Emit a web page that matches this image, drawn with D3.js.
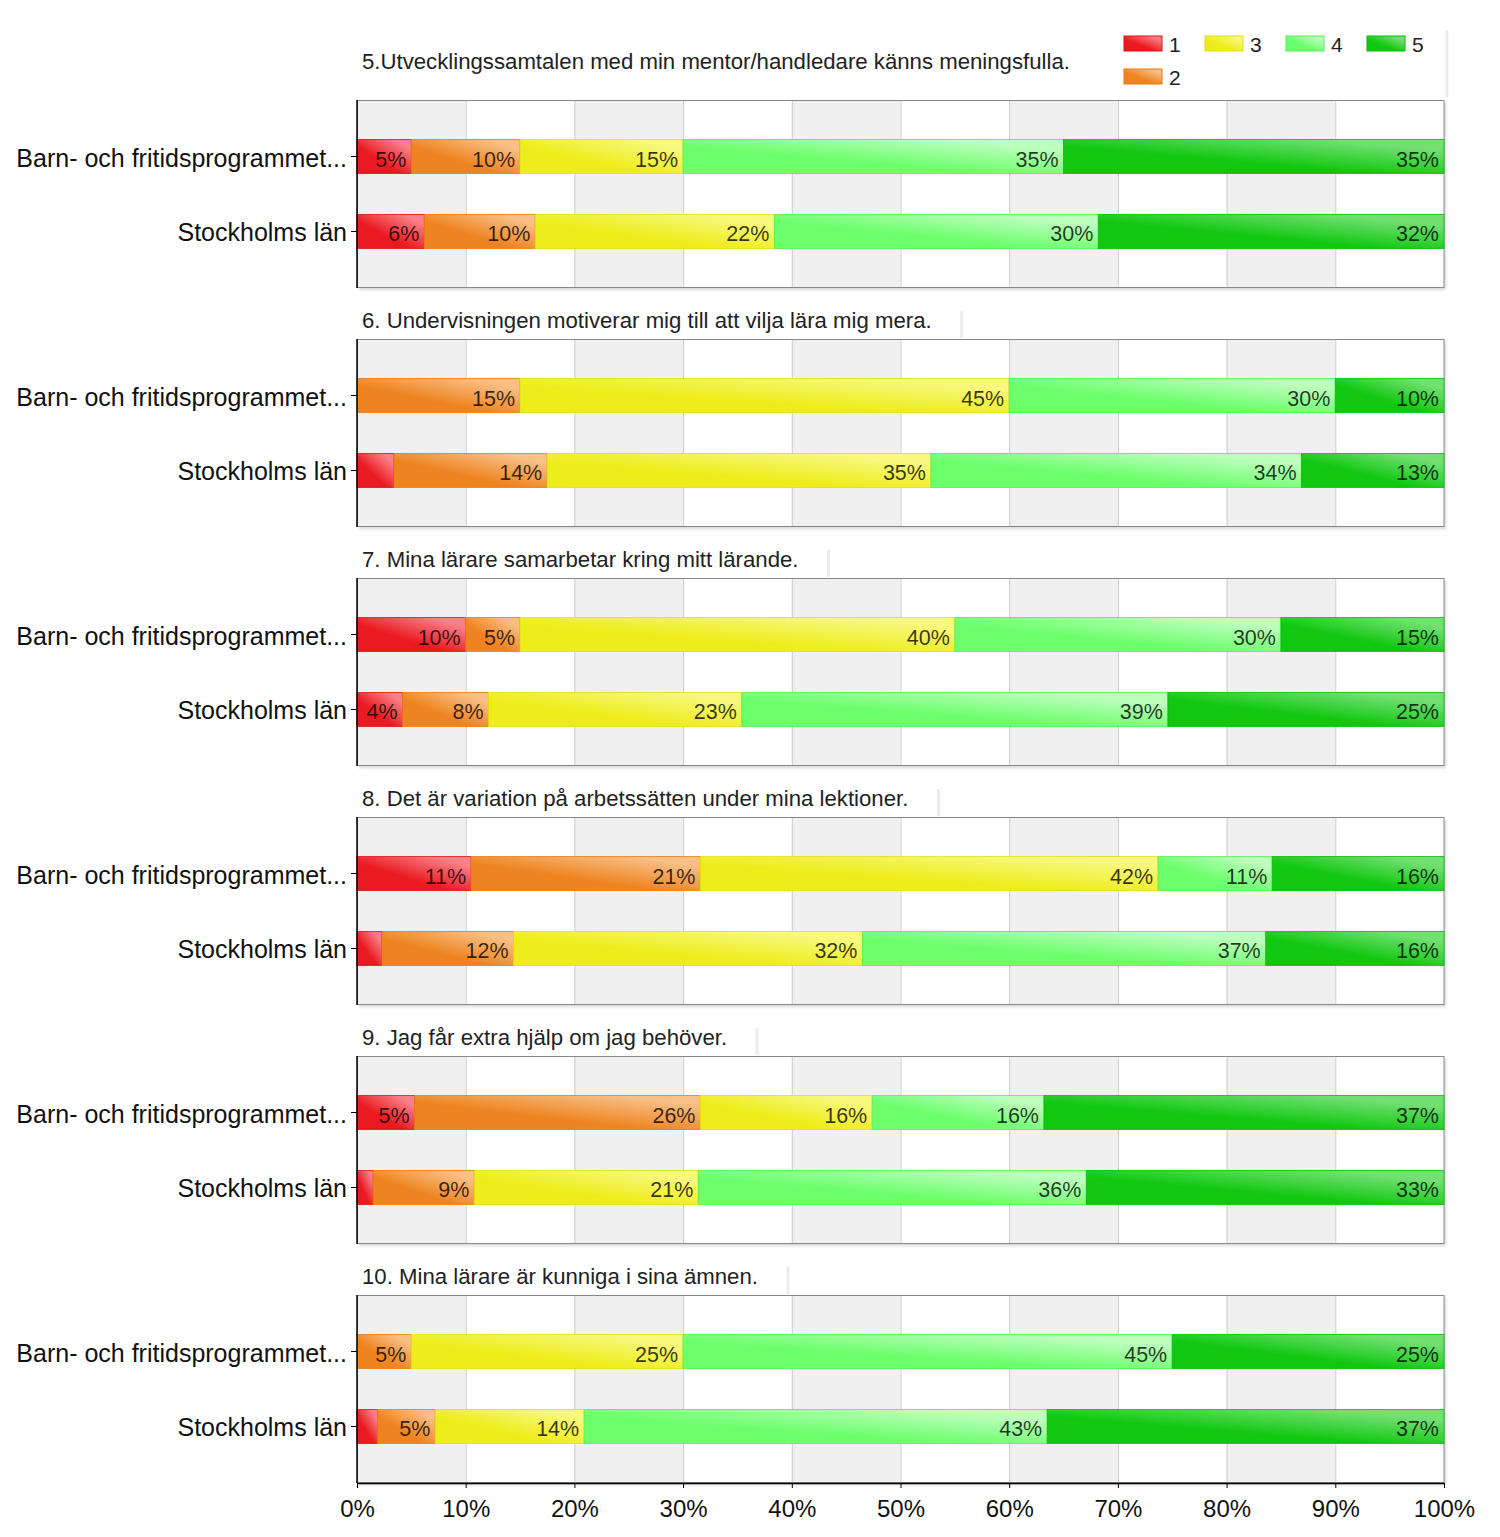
<!DOCTYPE html>
<html>
<head>
<meta charset="utf-8">
<script src="https://cdn.jsdelivr.net/npm/d3@7"></script>
<style>
  html, body { margin: 0; padding: 0; background: #fff; }
  svg { display: block; font-family: "Liberation Sans", Arial, sans-serif; }
</style>
</head>
<body>
<svg id="chart" width="1500" height="1537"></svg>
<script>
// ---------------- data ----------------
const categories = ["Barn- och fritidsprogrammet...", "Stockholms län"];
const seriesKeys = ["1", "2", "3", "4", "5"];
const titles = [
  "5.Utvecklingssamtalen med min mentor/handledare känns meningsfulla.",
  "6. Undervisningen motiverar mig till att vilja lära mig mera.",
  "7. Mina lärare samarbetar kring mitt lärande.",
  "8. Det är variation på arbetssätten under mina lektioner.",
  "9. Jag får extra hjälp om jag behöver.",
  "10. Mina lärare är kunniga i sina ämnen."
];
// percentages for answers 1..5, per question
const barnValues = [
  [5, 10, 15, 35, 35],
  [0, 15, 45, 30, 10],
  [10, 5, 40, 30, 15],
  [10.5, 21.1, 42.1, 10.5, 15.8],
  [5.3, 26.3, 15.8, 15.8, 36.8],
  [0, 5, 25, 45, 25]
];
const stockholmValues = [
  [6.2, 10.2, 22.0, 29.8, 31.8],
  [3.4, 14.1, 35.3, 34.1, 13.1],
  [4.2, 7.9, 23.3, 39.2, 25.4],
  [2.3, 12.1, 32.1, 37.1, 16.4],
  [1.5, 9.3, 20.6, 35.7, 32.9],
  [1.9, 5.3, 13.7, 42.6, 36.5]
];
const tickValues = [0, 10, 20, 30, 40, 50, 60, 70, 80, 90, 100];
const tickLabels = ["0%", "10%", "20%", "30%", "40%", "50%", "60%", "70%", "80%", "90%", "100%"];

// ---------------- styling ----------------
const baseColors  = ["#ea1a20", "#ee8420", "#eded1c", "#6cff6c", "#10c810"];
const lightColors = ["#f98088", "#f8bf86", "#f8f87e", "#beffbe", "#74e074"];
const edgeColors  = ["#dd1010", "#e87a10", "#e0e010", "#55ee55", "#0bb80b"];

const svg = d3.select("#chart");
const W = 1500;
const plotLeft = 357, plotRight = 1444;
const panelTop0 = 100, panelStep = 239, panelH = 188;

const defs = svg.append("defs");
seriesKeys.forEach((k, i) => {
  const g = defs.append("linearGradient").attr("id", "grad" + i)
    .attr("x1", 0).attr("y1", 1).attr("x2", 1).attr("y2", 0);
  g.append("stop").attr("offset", "0%").attr("stop-color", baseColors[i]);
  g.append("stop").attr("offset", "40%").attr("stop-color", baseColors[i]);
  g.append("stop").attr("offset", "85%").attr("stop-color", lightColors[i]);
  g.append("stop").attr("offset", "100%").attr("stop-color", lightColors[i]);
});
const blur = defs.append("filter").attr("id", "shadow").attr("x", "-5%").attr("y", "-5%").attr("width", "110%").attr("height", "110%");
blur.append("feGaussianBlur").attr("stdDeviation", 1.5);

svg.append("rect").attr("width", W).attr("height", 1537).attr("fill", "#fff");

const x = d3.scaleLinear().domain([0, 100]).range([plotLeft, plotRight]);
const y = d3.scaleBand().domain(categories).range([0, panelH])
  .paddingInner(0.547).paddingOuter(0.527);

const stack = d3.stack().keys(d3.range(seriesKeys.length));

titles.forEach((title, qi) => {
  const top = panelTop0 + qi * panelStep;
  const g = svg.append("g").attr("transform", `translate(0,${top})`);

  // shadow
  g.append("rect").attr("x", plotLeft + 2).attr("y", 2)
    .attr("width", plotRight - plotLeft).attr("height", panelH)
    .attr("fill", "#d8d8d8").attr("filter", "url(#shadow)");
  g.append("rect").attr("x", plotLeft).attr("y", 0)
    .attr("width", plotRight - plotLeft).attr("height", panelH).attr("fill", "#fff");

  // alternating background bands
  const bands = d3.range(0, 100, 10);
  g.selectAll(".band").data(bands).join("rect")
    .attr("x", d => x(d)).attr("y", 0)
    .attr("width", d => x(d + 10) - x(d)).attr("height", panelH)
    .attr("fill", (d, i) => i % 2 === 0 ? "#f0f0f0" : "#ffffff");
  g.selectAll(".grid").data(tickValues.slice(1, -1)).join("line")
    .attr("x1", d => x(d) + 0.5).attr("x2", d => x(d) + 0.5)
    .attr("y1", 0).attr("y2", panelH)
    .attr("stroke", "#cccccc").attr("stroke-width", 1);

  // frame
  g.append("rect").attr("x", plotLeft + 0.5).attr("y", 0.5)
    .attr("width", plotRight - plotLeft - 0.5).attr("height", panelH - 1)
    .attr("fill", "none").attr("stroke", "#888888").attr("stroke-width", 1);

  // title
  const titleY = qi === 0 ? -31 : -11;
  const t = g.append("text").attr("x", 362).attr("y", titleY)
    .attr("font-size", 22.2).attr("fill", "#222").text(title);
  if (qi > 0) {
    const tl = t.node().getComputedTextLength();
    g.append("line").attr("x1", 362 + tl + 30).attr("x2", 362 + tl + 30)
      .attr("y1", -28).attr("y2", -1)
      .attr("stroke", "#ececec").attr("stroke-width", 3);
  }

  // data rows
  const rows = [barnValues[qi], stockholmValues[qi]];
  const stacked = stack(rows);
  stacked.forEach((layer, si) => {
    layer.forEach((seg, ci) => {
      const cat = categories[ci];
      const x0 = x(seg[0]), x1 = x(seg[1]);
      const yy = y(cat), bh = y.bandwidth();
      g.append("rect")
        .attr("x", x0).attr("y", yy)
        .attr("width", Math.max(0, x1 - x0)).attr("height", bh)
        .attr("fill", `url(#grad${si})`)
        .attr("stroke", edgeColors[si]).attr("stroke-width", 1)
        .attr("stroke-opacity", 0.8);
      const v = rows[ci][si];
      if (x1 - x0 >= 40) {
        g.append("text")
          .attr("x", x1 - 5).attr("y", yy + bh / 2 + 10)
          .attr("text-anchor", "end").attr("font-size", 21.5)
          .attr("fill", "#000").attr("fill-opacity", 0.78)
          .text(Math.round(v) + "%");
      }
    });
  });

  // left axis
  const yAxis = d3.axisLeft(y).tickSize(6).tickPadding(4);
  const ya = g.append("g").attr("transform", `translate(${plotLeft},0)`).call(yAxis);
  ya.select(".domain").attr("stroke", "#000").attr("stroke-width", 1.5)
    .attr("d", `M0,0V${panelH}`);
  ya.selectAll(".tick line").attr("stroke", "#000");
  ya.selectAll(".tick text").attr("font-size", 25).attr("fill", "#111")
    .attr("dy", "0.4em")
    .attr("font-family", "Liberation Sans, Arial, sans-serif");

  // bottom axis on last panel
  if (qi === titles.length - 1) {
    const xAxis = d3.axisBottom(x).tickValues(tickValues)
      .tickFormat((d, i) => tickLabels[i]).tickSize(5).tickPadding(12).tickSizeOuter(0);
    const xa = g.append("g").attr("transform", `translate(0,${panelH})`).call(xAxis);
    xa.select(".domain").attr("stroke", "#000").attr("stroke-width", 1.5);
    xa.selectAll(".tick line").attr("stroke", "#000");
    xa.selectAll(".tick text").attr("font-size", 24).attr("fill", "#111")
      .attr("font-family", "Liberation Sans, Arial, sans-serif");
  }
});

// ---------------- legend ----------------
const legend = svg.append("g");
legend.append("line").attr("x1", 1447).attr("x2", 1447).attr("y1", 30).attr("y2", 98)
  .attr("stroke", "#ececec").attr("stroke-width", 3);
seriesKeys.forEach((k, i) => {
  const col = i === 0 ? 0 : (i === 1 ? 0 : i - 1);
  const row = i === 1 ? 1 : 0;
  const lx = 1124 + col * 81, ly = 36 + row * 33;
  legend.append("rect").attr("x", lx).attr("y", ly).attr("width", 38).attr("height", 15)
    .attr("fill", `url(#grad${i})`).attr("stroke", edgeColors[i]).attr("stroke-width", 1);
  legend.append("text").attr("x", lx + 45).attr("y", ly + 16)
    .attr("font-size", 21).attr("fill", "#222").text(k);
});
</script>
</body>
</html>
